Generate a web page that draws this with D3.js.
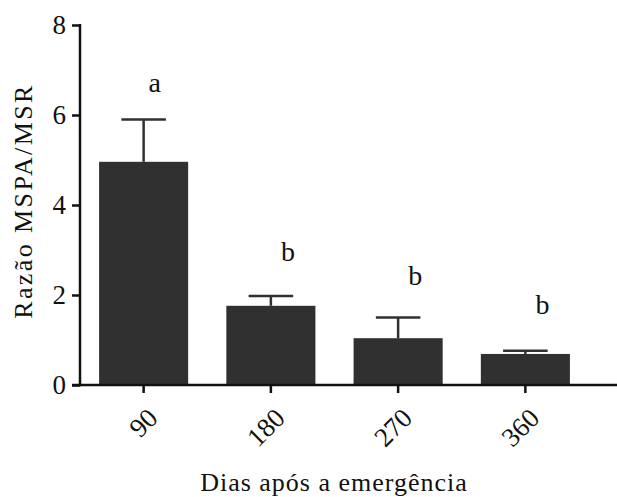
<!DOCTYPE html>
<html>
<head>
<meta charset="utf-8">
<script src="https://cdn.jsdelivr.net/npm/d3@7"></script>
<style>
  html, body { margin: 0; padding: 0; background: #fff; }
  svg { display: block; }
</style>
</head>
<body>
<svg id="chart" width="617" height="497"></svg>
<script>
// Data
const categories = ["90", "180", "270", "360"];
const means = [4.96, 1.76, 1.04, 0.69];
const errors = [0.94, 0.22, 0.46, 0.07];
const letters = ["a", "b", "b", "b"];
const letterLevels = [6.71, 2.96, 2.42, 1.78];
const yTicks = [0, 2, 4, 6, 8];
const yTitle = "Razão MSPA/MSR";
const xTitle = "Dias após a emergência";

const FONT = "Liberation Serif";
const svg = d3.select("#chart");
const barColor = "#303030";

const x = d3.scaleBand().domain(categories).range([80, 589]).paddingInner(0.3).paddingOuter(0.15);
const y = d3.scaleLinear().domain([0, 8]).range([385, 25]);

svg.append("g").selectAll("rect").data(categories).join("rect")
  .attr("x", d => x(d))
  .attr("width", x.bandwidth())
  .attr("y", (d, i) => y(means[i]))
  .attr("height", (d, i) => y(0) - y(means[i]))
  .attr("fill", barColor);

const eg = svg.append("g").attr("stroke", barColor).attr("stroke-width", 2.5);
categories.forEach((c, i) => {
  const cx = x(c) + x.bandwidth() / 2;
  const capW = x.bandwidth() / 4;
  eg.append("line").attr("x1", cx).attr("x2", cx).attr("y1", y(means[i])).attr("y2", y(means[i] + errors[i]));
  eg.append("line").attr("x1", cx - capW).attr("x2", cx + capW).attr("y1", y(means[i] + errors[i])).attr("y2", y(means[i] + errors[i]));
});

svg.append("g").selectAll("text").data(categories).join("text")
  .attr("x", (d, i) => x(d) + x.bandwidth() / 2 + (i === 0 ? 11 : 17))
  .attr("y", (d, i) => y(letterLevels[i]))
  .attr("dy", "0.32em")
  .attr("text-anchor", "middle")
  .attr("font-family", FONT)
  .attr("font-size", 28)
  .attr("fill", "#111")
  .text((d, i) => letters[i]);

const yAxis = d3.axisLeft(y).tickValues(yTicks).tickSize(8).tickPadding(6).tickFormat(d3.format("d"));
const yg = svg.append("g").attr("transform", "translate(80,0)").call(yAxis)
  .attr("font-family", FONT).attr("font-size", 27);
yg.select(".domain").remove();
yg.selectAll(".tick line").attr("stroke", "#111").attr("stroke-width", 2.5);
yg.selectAll(".tick text").attr("fill", "#111");
yg.append("line").attr("x1", 0).attr("x2", 0).attr("y1", y(8) - 1).attr("y2", y(0) + 1.25)
  .attr("stroke", "#111").attr("stroke-width", 2.5);

const xAxis = d3.axisBottom(x).tickSize(8).tickSizeOuter(0);
const xg = svg.append("g").attr("transform", `translate(0,${y(0)})`).call(xAxis)
  .attr("font-family", FONT).attr("font-size", 27);
xg.select(".domain").remove();
xg.selectAll(".tick line").attr("stroke", "#111").attr("stroke-width", 2.5);
xg.selectAll(".tick text")
  .attr("fill", "#111")
  .attr("text-anchor", "end")
  .attr("transform", "translate(9,28) rotate(-45)")
  .attr("dy", "0.35em").attr("y", 0);
xg.append("line").attr("x1", 72).attr("x2", 617).attr("y1", 0).attr("y2", 0)
  .attr("stroke", "#111").attr("stroke-width", 2.5);

svg.append("text")
  .attr("transform", "translate(32,201) rotate(-90)")
  .attr("text-anchor", "middle")
  .attr("font-family", FONT).attr("font-size", 26).attr("fill", "#111")
  .attr("letter-spacing", 2.4)
  .text(yTitle);

svg.append("text")
  .attr("x", 334).attr("y", 491)
  .attr("text-anchor", "middle")
  .attr("font-family", FONT).attr("font-size", 26).attr("fill", "#111")
  .attr("letter-spacing", 1)
  .text(xTitle);
</script>
</body>
</html>
